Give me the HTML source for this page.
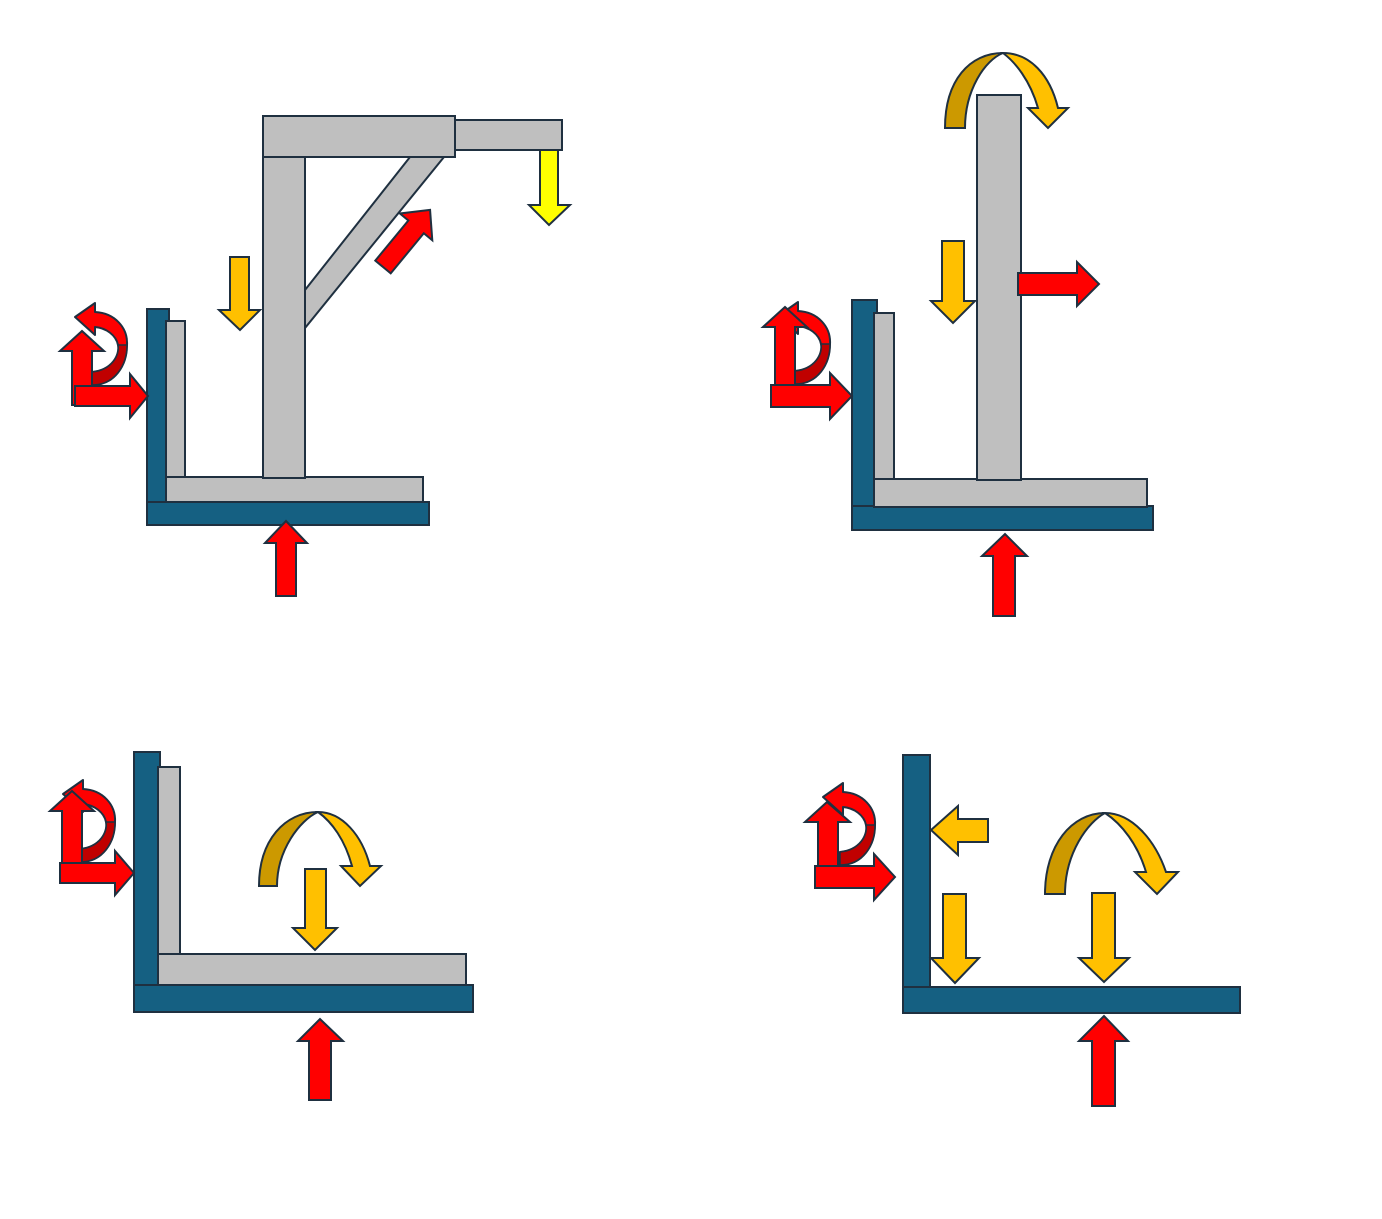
<!DOCTYPE html>
<html><head><meta charset="utf-8"><style>html,body{margin:0;padding:0;background:#fff}svg{display:block}</style></head>
<body>
<svg width="1382" height="1219" viewBox="0 0 1382 1219" xmlns="http://www.w3.org/2000/svg">
<defs>
<g id="mcurve">
<path d="M92,372 C112,370 120,355 118,345 C116,335 106,328 95,327 L95,335 L75,317 L95,303 L95,312 C115,313 128,328 127,345 C127,365 115,385 92,385 Z" fill="#ff0000" stroke="#1f3040" stroke-width="2" stroke-linejoin="round"/>
<path d="M92,372 C112,370 120,355 118,345 L127,345 C127,365 115,385 92,385 Z" fill="#c00000" stroke="#1f3040" stroke-width="1.5"/>
</g>
</defs>
<g stroke="#1f3040" stroke-width="2" stroke-linejoin="miter">
<!-- TL -->
<rect x="147" y="309" width="22" height="194" fill="#156082"/>
<rect x="147" y="502" width="282" height="23" fill="#156082"/>
<rect x="166" y="321" width="19" height="157" fill="#bfbfbf"/>
<rect x="166" y="477" width="257" height="25" fill="#bfbfbf"/>
<polygon points="305,290 410,157 444,157 305,328" fill="#bfbfbf"/>
<rect x="263" y="157" width="42" height="321" fill="#bfbfbf"/>
<rect x="455" y="120" width="107" height="30" fill="#bfbfbf"/>
<rect x="263" y="116" width="192" height="41" fill="#bfbfbf"/>
<polygon points="540,150 558,150 558,205 570,205 549,225 529,205 540,205" fill="#ffff00"/>
<polygon points="230,257 249,257 249,310 260,310 240,330 219,310 230,310" fill="#ffc000"/>
<polygon points="0,-10 52,-10 52,-21 74,0 52,21 52,10 0,10" fill="#ff0000" transform="translate(383,267) rotate(-50.5)"/>
<polygon points="276,596 296,596 296,543 307,543 286,521 265,543 276,543" fill="#ff0000"/>
<use href="#mcurve"/>
<polygon points="72,405 92,405 92,351 104,351 82,331 60,351 72,351" fill="#ff0000"/>
<polygon points="75,386 130,386 130,374 148,396 130,418 130,406 75,406" fill="#ff0000"/>

<!-- TR -->
<rect x="852" y="300" width="25" height="207" fill="#156082"/>
<rect x="852" y="506" width="301" height="24" fill="#156082"/>
<rect x="874" y="313" width="20" height="167" fill="#bfbfbf"/>
<rect x="874" y="479" width="273" height="28" fill="#bfbfbf"/>
<rect x="977" y="95" width="44" height="385" fill="#bfbfbf"/>
<path d="M945,128 C945,80 970,53 1003,53 C985,60 965,90 965,128 Z" fill="#cc9900"/>
<path d="M1003,53 C1030,53 1050,75 1058,108 L1068,108 L1048,128 L1028,108 L1038,108 C1030,80 1015,62 1003,53 Z" fill="#ffc000"/>
<polygon points="942,241 964,241 964,301 975,301 953,323 931,301 942,301" fill="#ffc000"/>
<polygon points="1018,273 1077,273 1077,262 1099,284 1077,306 1077,295 1018,295" fill="#ff0000"/>
<polygon points="993,616 1015,616 1015,556 1027,556 1005,534 982,556 993,556" fill="#ff0000"/>
<use href="#mcurve" transform="translate(703,-1)"/>
<polygon points="775,395 795,395 795,327 807,327 785,307 763,327 775,327" fill="#ff0000"/>
<polygon points="771,385 830,385 830,373 852,396 830,419 830,407 771,407" fill="#ff0000"/>

<!-- BL -->
<rect x="134" y="752" width="26" height="233" fill="#156082"/>
<rect x="134" y="985" width="339" height="27" fill="#156082"/>
<rect x="158" y="767" width="22" height="188" fill="#bfbfbf"/>
<rect x="158" y="954" width="308" height="31" fill="#bfbfbf"/>
<path d="M259,886 C259,840 285,812 318,812 C300,820 277,850 277,886 Z" fill="#cc9900"/>
<path d="M318,812 C342,812 362,835 370,866 L381,866 L360,886 L341,866 L352,866 C345,840 332,822 318,812 Z" fill="#ffc000"/>
<polygon points="305,869 326,869 326,928 337,928 315,950 293,928 305,928" fill="#ffc000"/>
<polygon points="309,1100 331,1100 331,1041 343,1041 320,1019 298,1041 309,1041" fill="#ff0000"/>
<use href="#mcurve" transform="translate(-12,477)"/>
<polygon points="62,870 82,870 82,811 94,811 72,791 50,811 62,811" fill="#ff0000"/>
<polygon points="60,863 115,863 115,851 134,873 115,895 115,883 60,883" fill="#ff0000"/>

<!-- BR -->
<rect x="903" y="755" width="27" height="232" fill="#156082"/>
<rect x="903" y="987" width="337" height="26" fill="#156082"/>
<polygon points="988,819 988,842 958,842 958,855 931,830 958,806 958,819" fill="#ffc000"/>
<polygon points="943,894 966,894 966,958 979,958 955,983 931,958 943,958" fill="#ffc000"/>
<polygon points="1092,893 1115,893 1115,958 1129,958 1104,982 1079,958 1092,958" fill="#ffc000"/>
<path d="M1045,894 C1045,845 1072,813 1105,813 C1088,822 1065,853 1065,894 Z" fill="#cc9900"/>
<path d="M1105,813 C1132,813 1155,840 1166,872 L1178,872 L1157,894 L1135,872 L1146,872 C1138,845 1122,824 1105,813 Z" fill="#ffc000"/>
<polygon points="1092,1106 1115,1106 1115,1041 1128,1041 1104,1016 1079,1041 1092,1041" fill="#ff0000"/>
<use href="#mcurve" transform="translate(748,480)"/>
<polygon points="818,875 838,875 838,822 850,822 827,802 805,822 818,822" fill="#ff0000"/>
<polygon points="815,866 874,866 874,854 895,877 874,900 874,888 815,888" fill="#ff0000"/>
</g>
</svg>
</body></html>
